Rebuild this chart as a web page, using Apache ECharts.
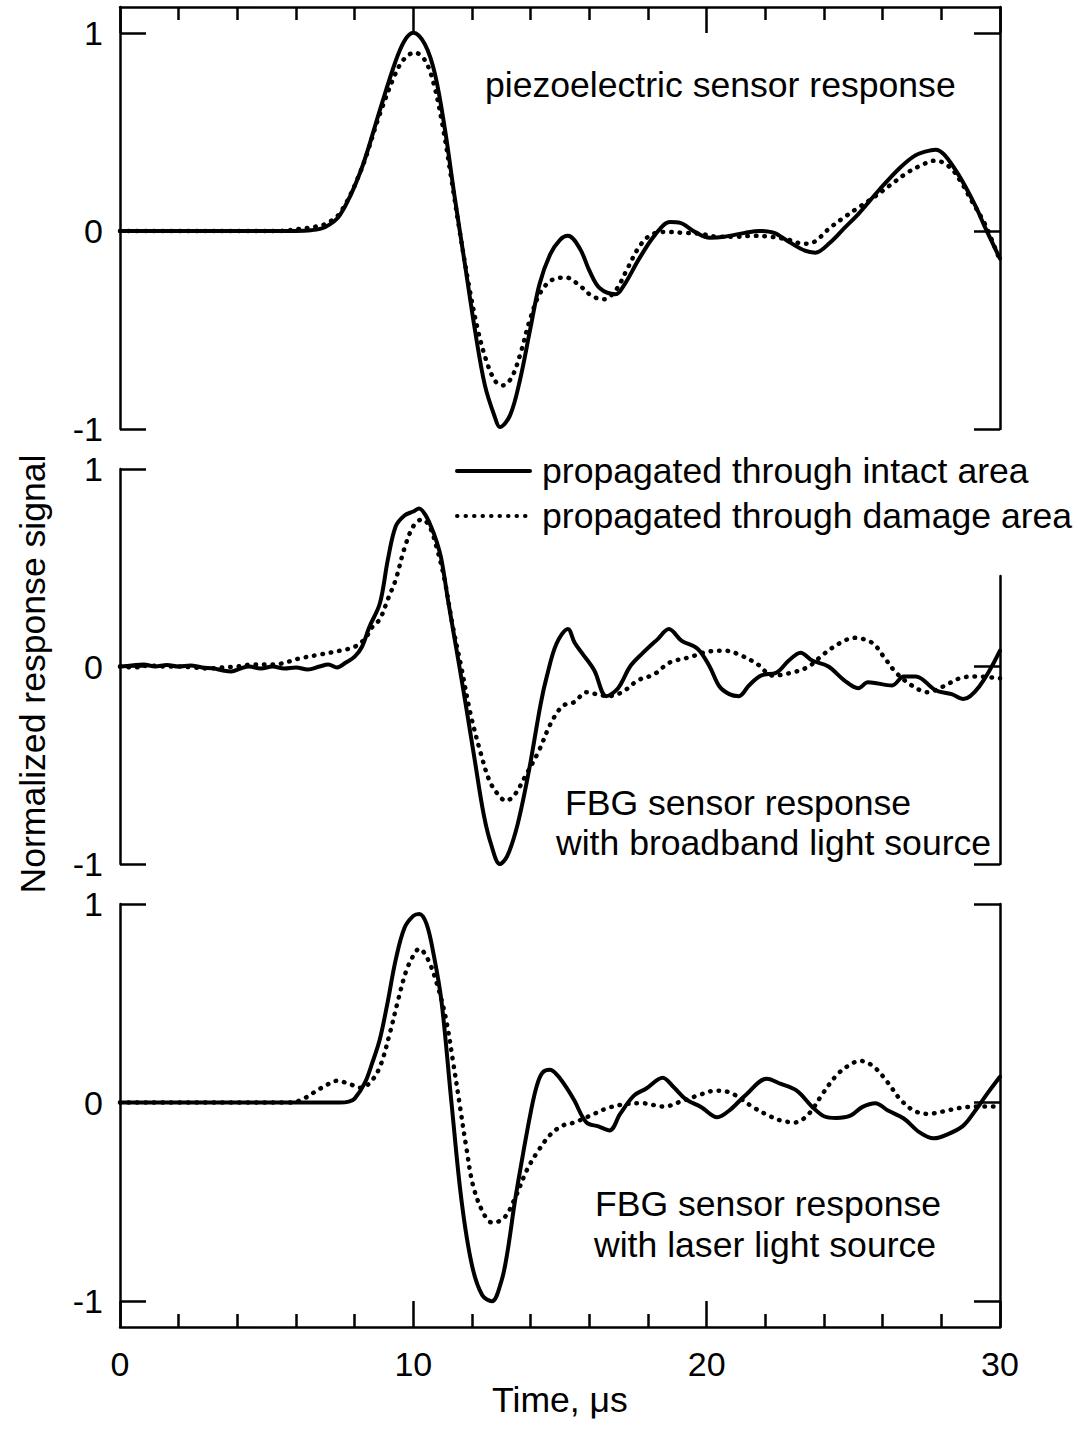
<!DOCTYPE html>
<html><head><meta charset="utf-8">
<script src="https://cdn.jsdelivr.net/npm/echarts@6/dist/echarts.min.js"></script>
<style>html,body{margin:0;padding:0;background:#fff}#c{width:1082px;height:1429px}</style>
</head><body><div id="c"></div>
<script>
// ---------- data (time in µs, normalized response) ----------
const seriesNames = ['propagated through intact area', 'propagated through damage area'];
const yTickValues = [-1, 0, 1];
const xLabelValues = [0, 10, 20, 30];

const piezoIntact = [[0,0],[2,0],[4,0],[6,0],[6.5,0.003],[7,0.02],[7.5,0.08],[8.2,0.3],[8.86,0.61],[9.38,0.85],[9.7,0.96],[10.0,1.0],[10.4,0.94],[10.74,0.79],[11.08,0.51],[11.4,0.18],[11.76,-0.17],[12.1,-0.5],[12.44,-0.78],[12.78,-0.94],[12.95,-0.99],[13.3,-0.93],[13.64,-0.75],[13.98,-0.5],[14.3,-0.27],[14.66,-0.12],[15.0,-0.045],[15.27,-0.025],[15.68,-0.09],[16.0,-0.2],[16.36,-0.29],[16.9,-0.32],[17.2,-0.27],[17.7,-0.14],[18.24,-0.02],[18.75,0.045],[19.1,0.04],[19.6,-0.005],[20.1,-0.035],[20.6,-0.03],[21.3,-0.01],[21.8,0.0],[22.3,-0.01],[22.8,-0.055],[23.35,-0.1],[23.7,-0.11],[24.2,-0.06],[24.7,0.015],[25.2,0.09],[25.9,0.21],[26.6,0.32],[27.1,0.38],[27.45,0.4],[27.8,0.41],[28.1,0.385],[28.6,0.28],[29.15,0.13],[29.5,0.015],[30,-0.14]];
const piezoDamage = [[0,0],[2,0],[4,0],[5.5,0],[6.1,0.01],[6.6,0.02],[7,0.035],[7.5,0.09],[8.2,0.3],[8.86,0.59],[9.38,0.79],[9.7,0.87],[10.05,0.9],[10.4,0.86],[10.7,0.74],[11.0,0.53],[11.3,0.26],[11.6,-0.02],[11.9,-0.28],[12.2,-0.5],[12.5,-0.66],[12.8,-0.76],[13.05,-0.78],[13.35,-0.74],[13.65,-0.62],[13.95,-0.46],[14.3,-0.32],[14.7,-0.25],[15.2,-0.235],[15.7,-0.28],[16.1,-0.33],[16.5,-0.345],[16.9,-0.3],[17.3,-0.19],[17.7,-0.08],[18.1,-0.02],[18.6,-0.005],[19.2,-0.01],[19.8,-0.015],[20.4,-0.03],[21.0,-0.03],[21.6,-0.025],[22.2,-0.03],[22.8,-0.045],[23.3,-0.065],[23.6,-0.06],[24.2,0.015],[24.7,0.07],[25.2,0.12],[25.7,0.17],[26.25,0.23],[26.8,0.29],[27.3,0.33],[27.8,0.355],[28.3,0.32],[28.7,0.24],[29.0,0.16],[29.5,0.03],[30,-0.15]];

const broadIntact = [[0,0],[0.4,0.005],[0.8,0.01],[1.2,0.0],[1.6,0.008],[2.0,0.0],[2.4,0.005],[2.8,-0.005],[3.2,-0.01],[3.5,-0.02],[3.8,-0.025],[4.1,-0.01],[4.4,0.0],[4.8,-0.01],[5.2,0.0],[5.6,-0.01],[6.0,-0.005],[6.4,-0.015],[6.8,0.0],[7.1,0.01],[7.4,-0.005],[7.7,0.02],[8.0,0.05],[8.25,0.1],[8.5,0.2],[8.86,0.32],[9.13,0.54],[9.4,0.71],[9.7,0.765],[10.0,0.785],[10.2,0.8],[10.4,0.77],[10.6,0.71],[10.8,0.63],[10.96,0.54],[11.2,0.32],[11.57,0.0],[11.85,-0.25],[12.1,-0.48],[12.4,-0.75],[12.65,-0.9],[12.95,-1.0],[13.2,-0.96],[13.5,-0.83],[13.75,-0.67],[14.0,-0.48],[14.34,-0.19],[14.55,-0.05],[14.88,0.115],[15.27,0.19],[15.5,0.12],[15.77,0.064],[16.17,-0.02],[16.58,-0.15],[16.98,-0.11],[17.39,0.0],[17.8,0.065],[18.34,0.14],[18.71,0.19],[19.15,0.13],[19.69,0.09],[20.1,0.0],[20.43,-0.1],[20.77,-0.14],[21.1,-0.15],[21.44,-0.096],[21.85,-0.046],[22.39,-0.03],[22.8,0.03],[23.2,0.07],[23.6,0.03],[24.15,0.0],[24.69,-0.07],[25.17,-0.11],[25.5,-0.08],[26.32,-0.096],[26.72,-0.05],[27.13,-0.05],[27.8,-0.12],[28.35,-0.14],[28.75,-0.165],[29.3,-0.10],[30,0.08]];
const broadDamage = [[0,0],[0.5,-0.005],[1,0.005],[1.5,0.0],[2,0.0],[2.5,-0.005],[3,-0.01],[3.5,-0.005],[4,0.0],[4.5,0.01],[5,0.01],[5.5,0.015],[6.1,0.04],[6.8,0.06],[7.5,0.08],[8.0,0.1],[8.35,0.14],[8.6,0.2],[8.86,0.24],[9.13,0.34],[9.4,0.44],[9.7,0.6],[10.0,0.71],[10.3,0.745],[10.55,0.71],[10.8,0.6],[11.05,0.45],[11.35,0.2],[11.63,0.0],[11.95,-0.24],[12.3,-0.44],[12.6,-0.58],[12.9,-0.65],[13.15,-0.68],[13.45,-0.65],[13.8,-0.56],[14.27,-0.43],[14.68,-0.29],[15.09,-0.2],[15.49,-0.18],[15.9,-0.13],[16.24,-0.14],[16.64,-0.15],[17.12,-0.13],[17.66,-0.07],[18.2,-0.04],[18.74,0.02],[19.42,0.047],[20.1,0.077],[20.63,0.08],[21.17,0.056],[21.72,0.013],[22.26,-0.046],[22.93,-0.03],[23.48,0.0],[24.0,0.064],[24.56,0.12],[25.03,0.145],[25.64,0.12],[26.05,0.047],[26.45,-0.03],[26.99,-0.096],[27.53,-0.13],[28.08,-0.1],[28.62,-0.06],[29.16,-0.05],[30,-0.06]];

const laserIntact = [[0,0],[4,0],[7.5,0],[7.8,0.005],[8.0,0.02],[8.35,0.1],[8.6,0.2],[8.86,0.32],[9.13,0.51],[9.4,0.72],[9.7,0.88],[10.0,0.94],[10.2,0.95],[10.45,0.9],[10.7,0.74],[10.96,0.51],[11.3,0.0],[11.64,-0.49],[12.0,-0.82],[12.35,-0.97],[12.68,-1.0],[13.0,-0.9],[13.2,-0.76],[13.47,-0.49],[13.75,-0.25],[14.0,-0.05],[14.2,0.08],[14.4,0.15],[14.65,0.165],[14.9,0.14],[15.2,0.08],[15.49,0.01],[15.9,-0.1],[16.31,-0.12],[16.69,-0.14],[17.05,-0.057],[17.52,0.035],[17.93,0.07],[18.5,0.125],[18.88,0.077],[19.28,0.018],[19.82,-0.023],[20.36,-0.074],[20.77,-0.04],[21.31,0.035],[22.05,0.12],[22.53,0.094],[23.07,0.06],[23.61,-0.023],[24.02,-0.07],[24.42,-0.077],[24.9,-0.066],[25.3,-0.023],[25.75,-0.003],[26.18,-0.04],[26.72,-0.08],[27.26,-0.15],[27.74,-0.18],[28.21,-0.16],[28.75,-0.116],[29.16,-0.04],[29.56,0.044],[30,0.13]];
const laserDamage = [[0,0],[4,0],[5.8,0],[6.2,0.015],[6.6,0.05],[7.0,0.085],[7.4,0.11],[7.8,0.095],[8.2,0.075],[8.52,0.1],[8.86,0.18],[9.2,0.35],[9.47,0.51],[9.75,0.66],[10.0,0.74],[10.2,0.775],[10.5,0.72],[10.8,0.6],[11.1,0.43],[11.35,0.21],[11.57,0.0],[11.8,-0.22],[12.04,-0.42],[12.4,-0.56],[12.7,-0.605],[13.1,-0.58],[13.47,-0.48],[13.87,-0.34],[14.27,-0.24],[14.68,-0.16],[15.09,-0.116],[15.49,-0.1],[16.03,-0.066],[16.58,-0.03],[17.12,-0.01],[17.79,-0.003],[18.54,-0.02],[19.15,0.007],[19.69,0.035],[20.3,0.06],[20.77,0.052],[21.17,0.018],[21.58,-0.023],[22.12,-0.066],[22.53,-0.09],[23.0,-0.1],[23.48,-0.057],[23.95,0.044],[24.42,0.136],[24.83,0.186],[25.24,0.21],[25.7,0.18],[26.18,0.1],[26.59,0.018],[27.06,-0.04],[27.53,-0.057],[28.08,-0.044],[28.62,-0.027],[29.16,-0.02],[30,-0.02]];

// ---------- styling ----------
const FONT = 'Liberation Sans, Arial, sans-serif';
const FS = 34;      // tick labels
const FT = 35.6;    // titles, legend, annotations
const BLACK = '#000';
const AX_W = 2.5;

function xAx(grid, opts) {
  return Object.assign({
    type: 'value', gridIndex: grid, min: 0, max: 30, interval: 10,
    axisLine: { show: true, onZero: false, lineStyle: { color: BLACK, width: AX_W } },
    axisTick: { show: true, inside: true, length: 26, lineStyle: { color: BLACK, width: AX_W } },
    minorTick: { show: true, splitNumber: 5, length: 13, lineStyle: { color: BLACK, width: AX_W } },
    axisLabel: { show: false },
    splitLine: { show: false }
  }, opts);
}
function yAx(grid, pos, min, max, tickVals, labels) {
  return {
    type: 'value', gridIndex: grid, position: pos, min: min, max: max, interval: 1,
    axisLine: { show: true, onZero: false, lineStyle: { color: BLACK, width: AX_W } },
    axisTick: { show: true, inside: true, length: 26, customValues: tickVals, lineStyle: { color: BLACK, width: AX_W } },
    axisLabel: labels ? { show: true, customValues: tickVals, margin: 17, color: BLACK, fontSize: FS, fontFamily: FONT,
      formatter: v => (v < 0 ? '-' + Math.abs(v) : String(v)) } : { show: false },
    splitLine: { show: false }
  };
}
const solidStyle = { color: BLACK, width: 4, type: 'solid', cap: 'round', join: 'round' };
const dotStyle = { color: BLACK, width: 4.5, type: [0.5, 8], cap: 'round' };
function ser(name, data, xi, yi, style) {
  return { type: 'line', name: name, data: data, xAxisIndex: xi, yAxisIndex: yi,
    showSymbol: false, symbol: 'none', smooth: 0.35, lineStyle: style, itemStyle: { color: BLACK }, silent: true };
}

const chart = echarts.init(document.getElementById('c'), null, { renderer: 'svg', width: 1082, height: 1429 });
chart.setOption({
  animation: false,
  backgroundColor: '#fff',
  textStyle: { fontFamily: FONT, color: BLACK },
  grid: [
    { left: 120, width: 880, top: 7, height: 422, outerBoundsMode: 'none' },
    { left: 120, width: 880, top: 469, height: 395, outerBoundsMode: 'none' },
    { left: 120, width: 880, top: 904, height: 423, outerBoundsMode: 'none' },
    { left: 120, width: 880, top: 576, height: 288, outerBoundsMode: 'none' }
  ],
  xAxis: [
    xAx(0, { position: 'top' }),
    xAx(1, { show: false }),
    xAx(2, { position: 'bottom', name: 'Time, μs', nameLocation: 'middle', nameGap: 50,
      nameTextStyle: { fontSize: FT, fontFamily: FONT, color: BLACK },
      axisLabel: { show: true, customValues: xLabelValues, margin: 20, color: BLACK, fontSize: FS, fontFamily: FONT } }),
    xAx(3, { show: false })
  ],
  yAxis: [
    yAx(0, 'left', -1, 1.13, yTickValues, true),
    yAx(0, 'right', -1, 1.13, yTickValues, false),
    yAx(1, 'left', -1, 1, yTickValues, true),
    yAx(2, 'left', -1.13, 1, yTickValues, true),
    yAx(2, 'right', -1.13, 1, yTickValues, false),
    yAx(3, 'right', -1, 0.46, [-1, 0], false)
  ],
  legend: {
    left: 455, top: 453, padding: 0, orient: 'vertical', itemWidth: 73, itemHeight: 14, itemGap: 9,
    data: seriesNames, selectedMode: false,
    itemStyle: { color: 'rgba(0,0,0,0)', borderColor: 'rgba(0,0,0,0)', borderWidth: 0, opacity: 0 },
    lineStyle: { width: 4 },
    textStyle: { fontSize: FT, fontFamily: FONT, color: BLACK, padding: [0, 0, 0, 7] }
  },
  series: [
    ser(seriesNames[0], piezoIntact, 0, 0, solidStyle),
    ser(seriesNames[1], piezoDamage, 0, 0, dotStyle),
    ser(seriesNames[0], broadIntact, 1, 2, solidStyle),
    ser(seriesNames[1], broadDamage, 1, 2, dotStyle),
    ser(seriesNames[0], laserIntact, 2, 3, solidStyle),
    ser(seriesNames[1], laserDamage, 2, 3, dotStyle)
  ],
  graphic: [
    { type: 'text', x: 33, y: 674, rotation: Math.PI / 2,
      style: { text: 'Normalized response signal', fontSize: FT, fontFamily: FONT, fill: BLACK, align: 'center', verticalAlign: 'middle' } },
    { type: 'text', x: 485, y: 85,
      style: { text: 'piezoelectric sensor response', fontSize: FT, fontFamily: FONT, fill: BLACK, align: 'left', verticalAlign: 'middle' } },
    { type: 'text', x: 565, y: 803,
      style: { text: 'FBG sensor response', fontSize: FT, fontFamily: FONT, fill: BLACK, align: 'left', verticalAlign: 'middle' } },
    { type: 'text', x: 556, y: 843,
      style: { text: 'with broadband light source', fontSize: FT, fontFamily: FONT, fill: BLACK, align: 'left', verticalAlign: 'middle' } },
    { type: 'text', x: 595, y: 1204,
      style: { text: 'FBG sensor response', fontSize: FT, fontFamily: FONT, fill: BLACK, align: 'left', verticalAlign: 'middle' } },
    { type: 'text', x: 594, y: 1245,
      style: { text: 'with laser light source', fontSize: FT, fontFamily: FONT, fill: BLACK, align: 'left', verticalAlign: 'middle' } }
  ]
});
</script>
</body></html>
